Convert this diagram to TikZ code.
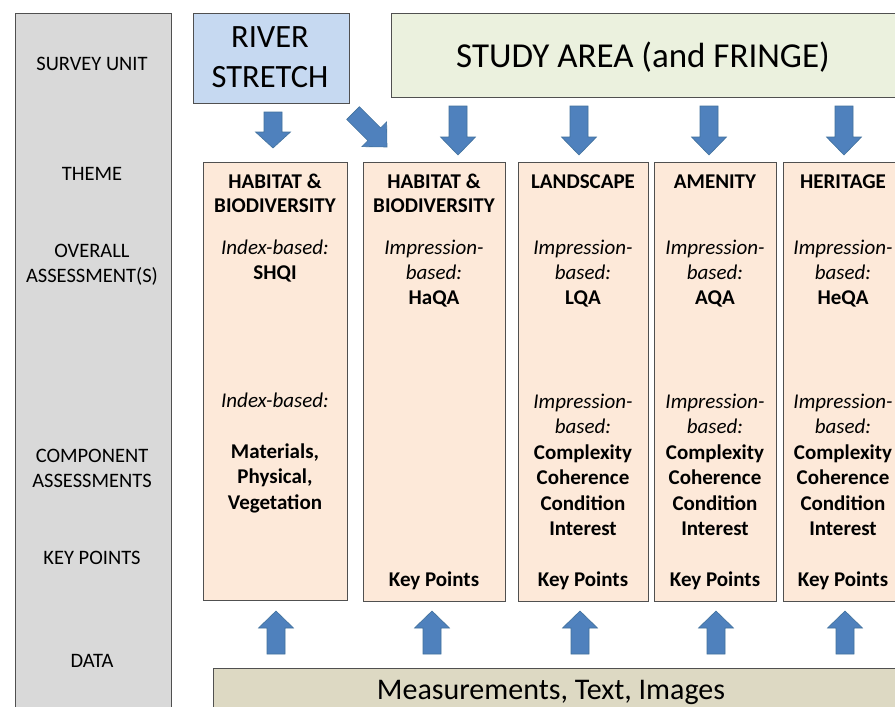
\documentclass[tikz,border=0pt]{standalone}
\usepackage{fontspec}
\setmainfont{Carlito}
\definecolor{arrowblue}{HTML}{4F81BD}
\definecolor{arrowedge}{HTML}{41719C}
\definecolor{leftgray}{HTML}{D9D9D9}
\definecolor{riverblue}{HTML}{C6D9F1}
\definecolor{studygreen}{HTML}{EBF1DE}
\definecolor{peach}{HTML}{FDE9D9}
\definecolor{datatan}{HTML}{DDD9C3}
\definecolor{edgegray}{HTML}{505050}
\newcommand\vdarr[4]{%
  \filldraw[blkarrow] ({#1-9},#2) -- ({#1+9},#2) -- ({#1+9},#3) -- ({#1+17.5},#3) -- (#1,#4) -- ({#1-17.5},#3) -- ({#1-9},#3) -- cycle;}
\begin{document}
\begin{tikzpicture}[x=1pt,y=-1pt,
  blkarrow/.style={fill=arrowblue,draw=arrowedge,line width=0.6pt},
  boxsty/.style={draw=edgegray,line width=1pt},
  txt/.style={inner sep=0pt,text height=15pt,text depth=0.6pt,font=\fontsize{21}{25}\selectfont},
  lbl/.style={txt,font=\fontsize{20.5}{24}\selectfont},
  bt/.style={txt,font=\fontsize{21}{25}\selectfont\bfseries},
  it/.style={txt,font=\fontsize{21}{25}\selectfont\itshape},
  bigtxt/.style={txt,text height=19pt,font=\fontsize{#1}{40}\selectfont}]
\clip (0,0) rectangle (895,707);
\fill[white] (0,0) rectangle (895,707);
% left column
\draw[boxsty,fill=leftgray] (15,13) rectangle (171,720);
\node[lbl] (l1) at (92,63) {SURVEY UNIT};
\node[lbl] (l2) at (92,173) {THEME};
\node[lbl] (l3) at (92,250) {OVERALL};
\node[lbl] (l4) at (92,275) {ASSESSMENT(S)};
\node[lbl] (l5) at (92,455) {COMPONENT};
\node[lbl] (l6) at (92,480) {ASSESSMENTS};
\node[lbl] (l7) at (92,557) {KEY POINTS};
\node[lbl] (l8) at (92,660) {DATA};
% survey units
\draw[boxsty,fill=riverblue] (193,13) rectangle (349,103);
\node[bigtxt=32.5] (r1) at (270,38) {RIVER};
\node[bigtxt=32.5] (r2) at (270,78) {STRETCH};
\draw[boxsty,fill=studygreen] (391,13) rectangle (905,97);
\node[bigtxt=35,text height=23pt] (sa) at (643,56) {STUDY AREA (and FRINGE)};
% top arrows
\vdarr{273}{112}{132}{148}
\begin{scope}[shift={(387,147)},rotate=45]
  \vdarr{0}{-48}{-18}{0}
\end{scope}
\foreach \ax in {458,579,709,844}{\vdarr{\ax}{106}{137}{155}}
% theme boxes
\draw[boxsty,fill=peach] (203,162) rectangle (347,600);
\draw[boxsty,fill=peach] (363,162) rectangle (505,601);
\draw[boxsty,fill=peach] (518,162) rectangle (648,601);
\draw[boxsty,fill=peach] (654,162) rectangle (776,601);
\draw[boxsty,fill=peach] (783,162) rectangle (905,601);
% box 1
\node[bt] (a1) at (275,181) {HABITAT \&};
\node[bt] (a2) at (275,205) {BIODIVERSITY};
\node[it] (a3) at (275,247) {Index-based:};
\node[bt] (a4) at (275,272) {SHQI};
\node[it] (a5) at (275,400) {Index-based:};
\node[bt] (a6) at (275,451) {Materials,};
\node[bt] (a7) at (275,476) {Physical,};
\node[bt] (a8) at (275,502) {Vegetation};
% box 2
\node[bt] (b1) at (434,181) {HABITAT \&};
\node[bt] (b2) at (434,205) {BIODIVERSITY};
\node[it] (b3) at (434,247) {Impression-};
\node[it] (b4) at (434,272) {based:};
\node[bt] (b5) at (434,297) {HaQA};
\node[bt] (b6) at (434,579) {Key Points};
% boxes 3-5
\foreach \cx/\ttl/\qa/\nm in {583/LANDSCAPE/LQA/c,715/AMENITY/AQA/d,843/HERITAGE/HeQA/e}{
  \node[bt] (\nm1) at (\cx,181) {\ttl};
  \node[it] (\nm2) at (\cx,247) {Impression-};
  \node[it] (\nm3) at (\cx,272) {based:};
  \node[bt] (\nm4) at (\cx,297) {\qa};
  \node[it] (\nm5) at (\cx,401) {Impression-};
  \node[it] (\nm6) at (\cx,426) {based:};
  \node[bt] (\nm7) at (\cx,452) {Complexity};
  \node[bt] (\nm8) at (\cx,477) {Coherence};
  \node[bt] (\nm9) at (\cx,503) {Condition};
  \node[bt] (\nm10) at (\cx,528) {Interest};
  \node[bt] (\nm11) at (\cx,579) {Key Points};
}
% bottom arrows
\foreach \ax in {276,432,580,716,845}{\vdarr{\ax}{654}{628}{611}}
% data box
\draw[boxsty,fill=datatan] (213,668) rectangle (905,720);
\node[bigtxt=30] (dt) at (551,690) {Measurements, Text, Images};
\end{tikzpicture}
\end{document}
